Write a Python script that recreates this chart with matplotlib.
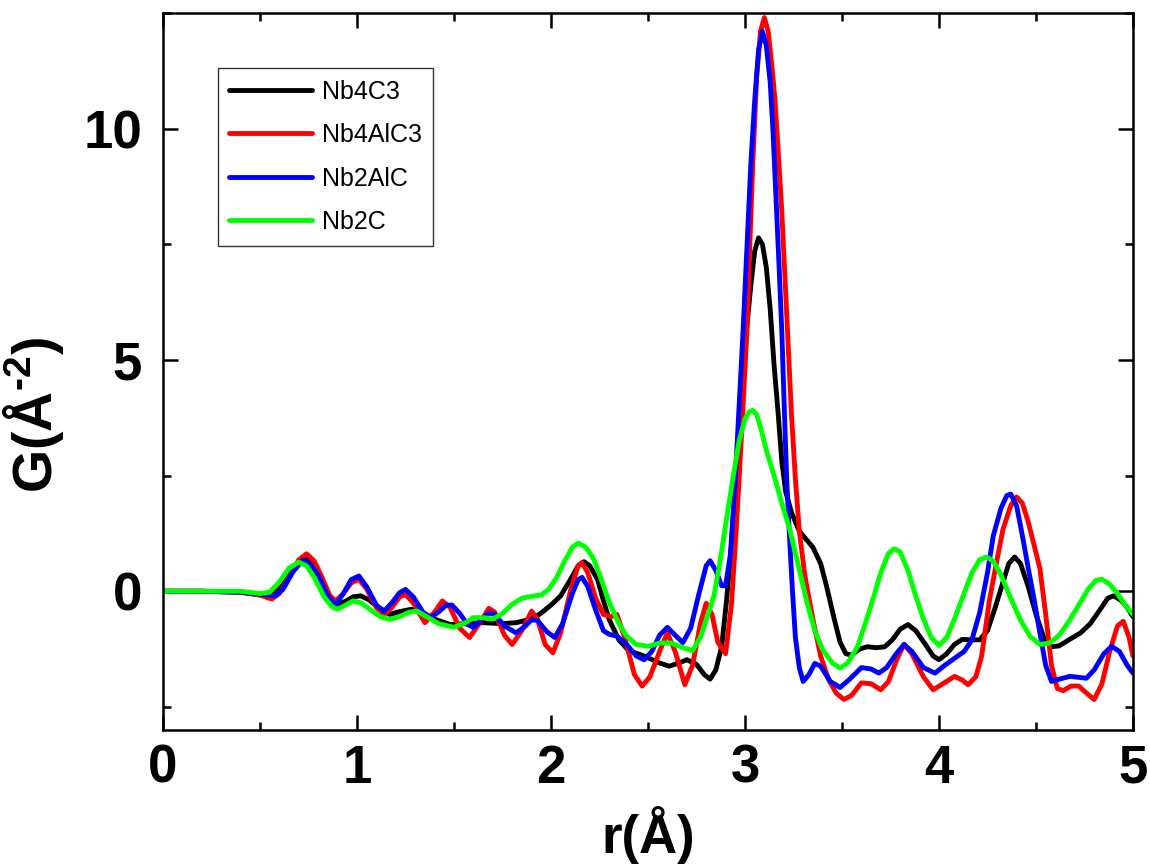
import matplotlib
matplotlib.use('Agg')
import matplotlib.pyplot as plt
from matplotlib.ticker import MultipleLocator

plt.rcParams['font.family'] = ['Liberation Sans', 'DejaVu Sans']
plt.rcParams['mathtext.fontset'] = 'custom'
plt.rcParams['mathtext.bf'] = 'Liberation Sans:bold'
plt.rcParams['mathtext.rm'] = 'Liberation Sans:bold'

# values
r_nb4c3 = [0.0, 0.2, 0.4, 0.5, 0.55, 0.6, 0.65, 0.7, 0.74, 0.78, 0.82, 0.86, 0.9, 0.94,
           0.98, 1.02, 1.06, 1.11, 1.17, 1.22, 1.28, 1.33, 1.4, 1.48, 1.56, 1.65, 1.75,
           1.82, 1.88, 1.94, 2.0, 2.05, 2.1, 2.14, 2.17, 2.2, 2.24, 2.27, 2.3, 2.35, 2.4,
           2.48, 2.56, 2.61, 2.66, 2.7, 2.75, 2.79, 2.82, 2.85, 2.88, 2.905, 2.93, 2.955,
           2.98, 3.0, 3.03, 3.05, 3.07, 3.09, 3.11, 3.13, 3.15, 3.17, 3.19, 3.21, 3.24,
           3.28, 3.32, 3.35, 3.39, 3.42, 3.46, 3.49, 3.52, 3.55, 3.59, 3.63, 3.68, 3.72,
           3.76, 3.8, 3.84, 3.88, 3.93, 3.97, 4.0, 4.04, 4.08, 4.12, 4.17, 4.21, 4.25,
           4.29, 4.33, 4.36, 4.39, 4.42, 4.46, 4.5, 4.54, 4.58, 4.62, 4.67, 4.73, 4.78,
           4.83, 4.87, 4.9, 4.94, 4.97, 5.0]
g_nb4c3 = [0.0, 0.0, -0.02, -0.08, -0.12, 0.05, 0.35, 0.62, 0.7, 0.55, 0.25, -0.1, -0.28, -0.22,
           -0.12, -0.1, -0.18, -0.35, -0.5, -0.44, -0.39, -0.45, -0.6, -0.72, -0.7, -0.68, -0.7,
           -0.68, -0.62, -0.5, -0.3, -0.1, 0.25, 0.55, 0.64, 0.55, 0.26, -0.2, -0.61, -1.05, -1.28,
           -1.4, -1.55, -1.62, -1.55, -1.48, -1.58, -1.8, -1.9, -1.7, -1.19, -0.2, 0.98, 2.43,
           4.16, 5.3, 6.6, 7.35, 7.64, 7.5, 7.0, 6.1, 4.89, 3.9, 2.8, 2.15, 1.7,
           1.3, 1.1, 0.95, 0.6, 0.12, -0.6, -1.1, -1.35, -1.38, -1.25, -1.2, -1.22, -1.2,
           -1.05, -0.82, -0.72, -0.85, -1.15, -1.4, -1.48, -1.35, -1.15, -1.04, -1.05, -1.05, -0.85,
           -0.35, 0.2, 0.6, 0.74, 0.6, 0.1, -0.5, -1.0, -1.2, -1.18, -1.05, -0.9, -0.7,
           -0.4, -0.15, -0.1, -0.2, -0.35, -0.55]

r_nb4alc3 = [0.0, 0.2, 0.4, 0.5, 0.56, 0.6, 0.65, 0.7, 0.74, 0.78, 0.82, 0.86, 0.89, 0.93,
             0.97, 1.01, 1.05, 1.1, 1.14, 1.18, 1.22, 1.25, 1.29, 1.35, 1.4, 1.44, 1.48,
             1.53, 1.58, 1.63, 1.68, 1.71, 1.76, 1.8, 1.85, 1.9, 1.93, 1.97, 2.01, 2.05,
             2.1, 2.14, 2.16, 2.19, 2.23, 2.27, 2.31, 2.34, 2.38, 2.43, 2.47, 2.51, 2.56,
             2.6, 2.64, 2.69, 2.73, 2.77, 2.8, 2.83, 2.86, 2.9, 2.93, 2.95, 2.97, 2.99,
             3.01, 3.025, 3.04, 3.06, 3.08, 3.1, 3.12, 3.14, 3.155, 3.17, 3.19, 3.215, 3.24,
             3.26, 3.28, 3.31, 3.35, 3.39, 3.43, 3.47, 3.51, 3.55, 3.6, 3.65, 3.7, 3.74,
             3.78, 3.82, 3.86, 3.92, 3.97, 4.02, 4.08, 4.12, 4.15, 4.19, 4.22, 4.26, 4.3,
             4.33, 4.37, 4.4, 4.43, 4.46, 4.49, 4.52, 4.55, 4.58, 4.61, 4.64, 4.68, 4.72,
             4.76, 4.8, 4.84, 4.88, 4.92, 4.95, 4.98, 5.0]
g_nb4alc3 = [0.0, 0.0, -0.02, -0.08, -0.17, -0.05, 0.3, 0.68, 0.81, 0.65, 0.3, -0.1, -0.21, -0.05,
             0.18, 0.26, 0.05, -0.35, -0.5, -0.35, -0.12, -0.07, -0.25, -0.68, -0.45, -0.21, -0.35,
             -0.8, -1.0, -0.7, -0.37, -0.45, -0.95, -1.15, -0.85, -0.43, -0.6, -1.15, -1.33, -0.9,
             0.0, 0.55, 0.62, 0.4, -0.15, -0.5, -0.55, -0.5, -1.0, -1.8, -2.05, -1.85, -1.3,
             -0.9, -1.3, -2.02, -1.6, -0.7, -0.26, -0.5, -1.1, -1.35, -0.3, 1.0, 2.43, 4.0,
             5.61, 7.5, 9.22, 11.1, 12.1, 12.4, 12.1, 11.3, 10.6, 9.6, 8.2, 6.0, 3.8,
             2.43, 1.3, 0.3, -0.6, -1.4, -1.9, -2.2, -2.34, -2.25, -1.98, -2.0, -2.13, -1.95,
             -1.5, -1.15, -1.35, -1.85, -2.13, -2.0, -1.84, -1.92, -2.02, -1.85, -1.4, -0.2, 0.7,
             1.34, 1.85, 2.04, 1.9, 1.5, 1.0, 0.5, -0.5, -1.6, -2.1, -2.15, -2.05, -2.05,
             -2.2, -2.34, -2.0, -1.3, -0.75, -0.65, -1.0, -1.4]

r_nb2alc = [0.0, 0.2, 0.4, 0.5, 0.58, 0.62, 0.67, 0.72, 0.76, 0.8, 0.85, 0.89, 0.93, 0.97,
            1.01, 1.05, 1.1, 1.14, 1.18, 1.22, 1.25, 1.29, 1.34, 1.38, 1.42, 1.46, 1.49,
            1.53, 1.57, 1.6, 1.64, 1.68, 1.71, 1.76, 1.82, 1.86, 1.9, 1.93, 1.98, 2.02,
            2.06, 2.11, 2.14, 2.16, 2.19, 2.23, 2.27, 2.3, 2.34, 2.39, 2.44, 2.48, 2.52,
            2.56, 2.6, 2.64, 2.68, 2.72, 2.76, 2.8, 2.82, 2.85, 2.88, 2.9, 2.925, 2.95,
            2.97, 2.99, 3.01, 3.03, 3.05, 3.07, 3.09, 3.11, 3.13, 3.145, 3.16, 3.175, 3.19,
            3.2, 3.215, 3.23, 3.245, 3.26, 3.28, 3.3, 3.33, 3.36, 3.39, 3.44, 3.49, 3.54,
            3.6, 3.65, 3.69, 3.73, 3.78, 3.82, 3.86, 3.92, 3.98, 4.03, 4.08, 4.13, 4.17,
            4.21, 4.25, 4.28, 4.32, 4.35, 4.37, 4.4, 4.43, 4.46, 4.49, 4.52, 4.55, 4.58,
            4.62, 4.675, 4.72, 4.76, 4.8, 4.85, 4.89, 4.93, 4.97, 5.0]
g_nb2alc = [0.0, 0.0, -0.02, -0.06, -0.1, 0.05, 0.42, 0.67, 0.58, 0.35, -0.1, -0.3, -0.05, 0.25,
            0.33, 0.1, -0.3, -0.43, -0.25, -0.03, 0.04, -0.12, -0.45, -0.57, -0.45, -0.3, -0.3,
            -0.48, -0.72, -0.78, -0.62, -0.47, -0.5, -0.75, -0.9, -0.78, -0.62, -0.63, -0.88, -1.0,
            -0.7, -0.05, 0.25, 0.3, 0.1, -0.4, -0.85, -0.93, -0.97, -1.15, -1.4, -1.48, -1.3,
            -0.95, -0.78, -0.95, -1.11, -0.8, -0.1, 0.55, 0.66, 0.45, 0.12, 0.12, 0.8, 2.43,
            4.0, 5.61, 7.4, 9.22, 10.6, 11.7, 12.1, 11.8, 11.0, 9.9, 8.5, 7.1, 5.61,
            4.3, 2.43, 1.13, 0.0, -1.0, -1.65, -1.95, -1.8, -1.56, -1.62, -1.95, -2.08, -1.9,
            -1.65, -1.68, -1.77, -1.65, -1.35, -1.15, -1.3, -1.65, -1.77, -1.6, -1.45, -1.3, -1.05,
            -0.46, 0.4, 1.2, 1.8, 2.07, 2.1, 1.85, 1.2, 0.5, -0.17, -0.9, -1.6, -1.95,
            -1.9, -1.84, -1.86, -1.88, -1.7, -1.35, -1.19, -1.3, -1.6, -1.77]

r_nb2c = [0.0, 0.2, 0.4, 0.5, 0.55, 0.6, 0.65, 0.7, 0.74, 0.78, 0.83, 0.87, 0.9, 0.94,
          0.98, 1.02, 1.07, 1.12, 1.17, 1.22, 1.27, 1.31, 1.36, 1.42, 1.5, 1.56, 1.6,
          1.65, 1.7, 1.75, 1.8, 1.85, 1.9, 1.95, 1.99, 2.03, 2.07, 2.11, 2.14, 2.18,
          2.22, 2.26, 2.3, 2.35, 2.39, 2.44, 2.5, 2.56, 2.62, 2.68, 2.73, 2.77, 2.81,
          2.84, 2.87, 2.905, 2.94, 2.97, 3.0, 3.02, 3.04, 3.06, 3.08, 3.11, 3.15, 3.19,
          3.23, 3.27, 3.32, 3.36, 3.4, 3.45, 3.49, 3.53, 3.58, 3.62, 3.66, 3.7, 3.74,
          3.77, 3.8, 3.84, 3.88, 3.92, 3.96, 4.0, 4.04, 4.08, 4.12, 4.17, 4.21, 4.245,
          4.28, 4.32, 4.37, 4.42, 4.47, 4.52, 4.57, 4.62, 4.67, 4.72, 4.77, 4.81, 4.84,
          4.88, 4.92, 4.96, 5.0]
g_nb2c = [0.0, 0.0, 0.0, -0.05, -0.02, 0.2, 0.5, 0.63, 0.55, 0.3, -0.12, -0.33, -0.39, -0.3,
          -0.21, -0.25, -0.4, -0.55, -0.61, -0.55, -0.45, -0.43, -0.55, -0.7, -0.78, -0.68, -0.57,
          -0.57, -0.6, -0.48, -0.28, -0.15, -0.11, -0.08, 0.05, 0.3, 0.65, 0.95, 1.04, 0.95,
          0.7, 0.25, -0.24, -0.7, -0.97, -1.15, -1.19, -1.12, -1.12, -1.22, -1.28, -1.0, -0.5,
          -0.1, 0.6, 1.56, 2.5, 3.25, 3.72, 3.87, 3.91, 3.82, 3.55, 3.05, 2.5, 1.9,
          1.35, 0.65, -0.25, -0.85, -1.26, -1.55, -1.66, -1.55, -1.2, -0.7, -0.17, 0.4, 0.82,
          0.92, 0.85, 0.45, -0.1, -0.6, -1.0, -1.17, -1.0, -0.6, -0.15, 0.4, 0.68, 0.74,
          0.65, 0.35, -0.15, -0.62, -0.98, -1.15, -1.12, -0.95, -0.65, -0.3, 0.05, 0.24, 0.26,
          0.15, -0.05, -0.3, -0.5]

series = [
    ('Nb4C3', r_nb4c3, g_nb4c3, 'black'),
    ('Nb4AlC3', r_nb4alc3, g_nb4alc3, '#ff0000'),
    ('Nb2AlC', r_nb2alc, g_nb2alc, '#0000ff'),
    ('Nb2C', r_nb2c, g_nb2c, '#00ff00'),
]

fig = plt.figure(figsize=(11.5, 8.66), dpi=100)
ax = fig.add_axes([0.1417, 0.157, 0.8435, 0.828])

for name, r, g, c in series:
    ax.plot(r, g, color=c, linewidth=3.5, label=name,
            solid_joinstyle='round', solid_capstyle='round')

ax.set_xlim(0, 5)
ax.set_ylim(-3, 12.5)
ax.xaxis.set_major_locator(MultipleLocator(1))
ax.xaxis.set_minor_locator(MultipleLocator(0.5))
ax.yaxis.set_major_locator(MultipleLocator(5))
ax.yaxis.set_minor_locator(MultipleLocator(2.5))

for s in ax.spines.values():
    s.set_linewidth(1.8)
ax.tick_params(which='both', direction='in', top=True, right=True, width=1.8)
ax.tick_params(which='major', length=11, labelsize=38)
ax.tick_params(axis='x', which='major', pad=10)
ax.tick_params(axis='y', which='major', pad=15)
ax.tick_params(which='minor', length=6)
for lab in ax.get_xticklabels() + ax.get_yticklabels():
    lab.set_fontweight('bold')

ax.set_xlabel('r(Å)', fontsize=38, fontweight='bold', labelpad=9)
ax.set_ylabel(r'G(Å$^{\text{-2}}$)', fontsize=40, fontweight='bold')
ax.yaxis.set_label_coords(-0.1, 0.44)

leg = ax.legend(loc='upper left', bbox_to_anchor=(0.0567, 0.923), fontsize=18,
                handlelength=3.3, handletextpad=0.4, borderpad=0.46, labelspacing=0.78,
                fancybox=False, framealpha=1, borderaxespad=0)
leg.get_frame().set_edgecolor('#333333')
leg.get_frame().set_linewidth(1.0)

fig.savefig('out.png', dpi=100)
